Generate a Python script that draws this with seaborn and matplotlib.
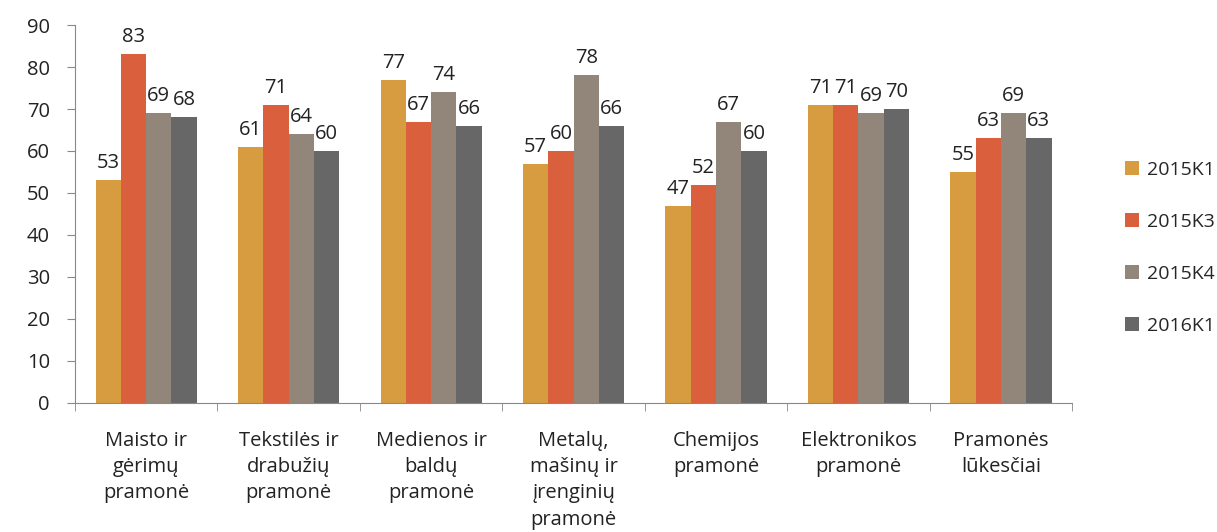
import matplotlib
matplotlib.use("Agg")
import matplotlib.pyplot as plt
import seaborn as sns
import pandas as pd
import numpy as np

categories = [
    "Maisto ir\ngėrimų\npramonė",
    "Tekstilės ir\ndrabužių\npramonė",
    "Medienos ir\nbaldų\npramonė",
    "Metalų,\nmašinų ir\nįrenginių\npramonė",
    "Chemijos\npramonė",
    "Elektronikos\npramonė",
    "Pramonės\nlūkesčiai",
]
series = ["2015K1", "2015K3", "2015K4", "2016K1"]
v_2015k1 = [53, 61, 77, 57, 47, 71, 55]
v_2015k3 = [83, 71, 67, 60, 52, 71, 63]
v_2015k4 = [69, 64, 74, 78, 67, 69, 69]
v_2016k1 = [68, 60, 66, 66, 60, 70, 63]
colors = ["#D69C3F", "#D95F3D", "#918679", "#676767"]

rows = []
for s, vals in zip(series, [v_2015k1, v_2015k3, v_2015k4, v_2016k1]):
    for c, v in zip(categories, vals):
        rows.append({"cat": c, "series": s, "value": v})
df = pd.DataFrame(rows)

sns.set_style("white")
plt.rcParams['font.family'] = ['Open Sans', 'DejaVu Sans']

fig = plt.figure(figsize=(12.17, 5.32), dpi=100)
ax = fig.add_axes([0.0616, 0.2425, 0.8194, 0.7105])

sns.barplot(data=df, x="cat", y="value", hue="series", palette=colors,
            width=0.71, saturation=1, linewidth=0, ax=ax, legend=True)

for cont in ax.containers:
    ax.bar_label(cont, padding=5, fontsize=14.5, color="#222222")

ax.set_ylim(0, 90)
ax.set_yticks(np.arange(0, 91, 10))
ax.set_xlim(-0.5, len(categories) - 0.5)
ax.set_xlabel("")
ax.set_ylabel("")

for sp in ["top", "right"]:
    ax.spines[sp].set_visible(False)
ax.spines["left"].set_color("#888888")
ax.spines["bottom"].set_color("#888888")

ax.tick_params(axis="y", length=6, color="#888888", labelsize=14.5,
               labelcolor="#222222", pad=12, left=True)
ax.tick_params(axis="x", which="major", length=0, labelsize=14.5,
               labelcolor="#222222", pad=20)
for lbl in ax.get_xticklabels():
    lbl.set_linespacing(1.42)
ax.set_xticks(np.arange(-0.5, len(categories)), minor=True)
ax.tick_params(axis="x", which="minor", length=6, color="#888888", bottom=True)

handles, labels = ax.get_legend_handles_labels()
ax.legend(handles, labels, loc="center left", bbox_to_anchor=(1.035, 0.41),
          frameon=False, fontsize=14, labelspacing=1.75, handlelength=0.75,
          handleheight=0.75, handletextpad=0.4)

fig.savefig("out.png", dpi=100)
